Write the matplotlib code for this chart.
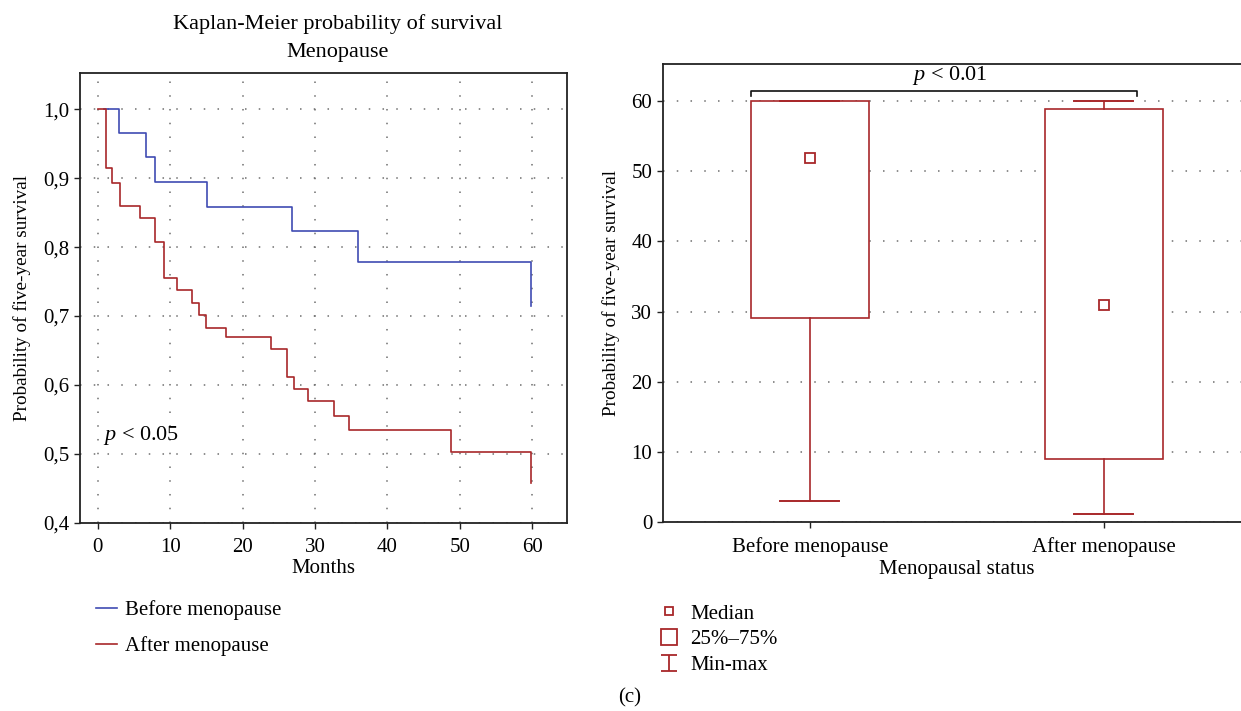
import matplotlib
matplotlib.use("Agg")
import matplotlib.pyplot as plt
from matplotlib.lines import Line2D
from matplotlib.path import Path
import numpy as np

plt.rcParams['font.family'] = ['Liberation Serif', 'DejaVu Serif']
plt.rcParams['mathtext.fontset'] = 'custom'
plt.rcParams['mathtext.it'] = 'Liberation Serif:italic'
plt.rcParams['mathtext.rm'] = 'Liberation Serif'

# Kaplan-Meier curves (months, survival probability)
before_t = [0.93, 2.9, 6.6, 7.93, 15.07, 26.8, 36.0, 59.8]
before_s = [1.0, 0.965, 0.930, 0.895, 0.858, 0.823, 0.778, 0.715]
after_t = [0.08, 1.16, 1.9, 3.04, 5.9, 7.88, 9.18, 10.9, 13.05, 13.92, 14.98,
           17.65, 23.88, 26.09, 27.06, 29.03, 32.63, 34.7, 48.72, 59.8]
after_s = [1.0, 0.915, 0.893, 0.859, 0.842, 0.807, 0.755, 0.738, 0.719, 0.701, 0.683,
           0.669, 0.652, 0.611, 0.594, 0.576, 0.555, 0.535, 0.502, 0.457]
series_names = ["Before menopause", "After menopause"]

# box plot summary per menopausal status
groups = ["Before menopause", "After menopause"]
medians = [51.9, 30.9]
q1 = [29.1, 9.05]
q3 = [60.0, 58.86]
mins = [3.03, 1.18]
maxs = [60.0, 60.0]

red = '#a8282a'
blue = '#3f4bb3'
dotgrid = dict(color='#6f6f6f', linestyle=(0, (1, 8)), linewidth=1.1)
fs = 15
fs_ylab = 13.8

W, H = 1241, 711
fig = plt.figure(figsize=(W / 100, H / 100), dpi=100)

def frac(x0, y0, x1, y1):
    # pixel box (top-left origin) -> figure fraction rect
    return [x0 / W, 1 - y1 / H, (x1 - x0) / W, (y1 - y0) / H]

# ---- left: Kaplan-Meier ----
ax1 = fig.add_axes(frac(80, 72.7, 566.7, 522.7))
ax1.step(before_t, before_s, where='post', color=blue, lw=1.2, label=series_names[0])
ax1.step(after_t, after_s, where='post', color=red, lw=1.2, label=series_names[1])
ax1.set_xlim(-2.45, 64.75)
ax1.set_ylim(0.4, 1.053)
ax1.set_xticks(range(0, 61, 10))
yt = np.arange(0.4, 1.01, 0.1)
ax1.set_yticks(yt)
ax1.set_yticklabels([("%.1f" % v).replace('.', ',') for v in yt])
ax1.grid(True, **dotgrid)
ax1.set_axisbelow(True)
ax1.tick_params(labelsize=fs, length=4, width=1, direction='out', color='#222222')
ax1.tick_params(axis='x', pad=7)
ax1.set_xlabel("Months", fontsize=fs)
ax1.set_ylabel("Probability of five-year survival", fontsize=fs_ylab)
ax1.xaxis.set_label_coords(0.5, -0.08)
ax1.yaxis.set_label_coords(-0.1, 0.5)
ax1.text(0.7, 0.527, r"$p$ < 0.05", fontsize=fs + 1, va='center', ha='left')
for s in ax1.spines.values():
    s.set_linewidth(1.3)
    s.set_color('#222222')

fig.text(338 / W, 1 - 24 / H, "Kaplan-Meier probability of survival", fontsize=fs + 1,
         ha='center', va='center')
fig.text(338 / W, 1 - 52 / H, "Menopause", fontsize=fs + 1, ha='center', va='center')

fig.legend(handles=ax1.get_lines(), loc='upper left',
           bbox_to_anchor=(96 / W, 1 - 600 / H), frameon=False, fontsize=fs,
           handlelength=1.0, handletextpad=0.4, labelspacing=0.8, borderpad=0,
           borderaxespad=0)

# ---- right: box plot ----
ax2 = fig.add_axes(frac(662.7, 64.3, 1250.75, 522.3))
stats = []
for i in range(len(groups)):
    stats.append(dict(med=medians[i], q1=q1[i], q3=q3[i], whislo=mins[i],
                      whishi=maxs[i], label=groups[i]))
pos = np.arange(len(groups))
ax2.bxp(stats, positions=pos, widths=0.4, capwidths=0.2, patch_artist=True,
        showfliers=False,
        boxprops=dict(facecolor='white', edgecolor=red, linewidth=1.2),
        whiskerprops=dict(color=red, linewidth=1.2),
        capprops=dict(color=red, linewidth=1.4),
        medianprops=dict(linewidth=0))
ax2.plot(pos, medians, 's', ms=6.5, mfc='white', mec=red, mew=1.3, ls='none', zorder=5)
ax2.set_xlim(-0.5, 1.5)
ax2.set_ylim(0, 65.2)
ax2.set_yticks(range(0, 61, 10))
ax2.set_xticks(pos)
ax2.set_xticklabels(groups)
ax2.yaxis.grid(True, **dotgrid)
ax2.set_axisbelow(True)
ax2.tick_params(labelsize=fs, length=4, width=1, direction='out', color='#222222')
ax2.tick_params(axis='x', pad=7)
ax2.set_xlabel("Menopausal status", fontsize=fs)
ax2.set_ylabel("Probability of five-year survival", fontsize=fs_ylab)
ax2.xaxis.set_label_coords(0.5, -0.083)
ax2.yaxis.set_label_coords(-0.073, 0.5)
for s in ax2.spines.values():
    s.set_linewidth(1.3)
    s.set_color('#222222')

# significance bracket
bx0, bx1 = pos[0] - 0.2, pos[1] + 0.112
ax2.plot([bx0, bx0, bx1, bx1], [60.7, 61.4, 61.4, 60.7], color='#111111', lw=1.2,
         clip_on=False)
ax2.text((bx0 + bx1) / 2 + 0.02, 61.9, r"$p$ < 0.01", fontsize=fs + 1, ha='center',
         va='bottom')

# legend for box plot
minmax = Path([(-1, 1), (1, 1), (0, 1), (0, -1), (-1, -1), (1, -1)],
              [Path.MOVETO, Path.LINETO, Path.MOVETO, Path.LINETO, Path.MOVETO, Path.LINETO])
h_med = Line2D([], [], marker='s', ms=6, mfc='white', mec=red, mew=1.3, ls='none')
h_box = Line2D([], [], marker='s', ms=11.5, mfc='white', mec=red, mew=1.3, ls='none')
h_mm = Line2D([], [], marker=minmax, ms=11, mfc='none', mec=red, mew=1.3, ls='none')
fig.legend(handles=[h_med, h_box, h_mm], labels=["Median", "25%–75%", "Min-max"],
           loc='upper left', bbox_to_anchor=(658 / W, 1 - 604 / H), frameon=False,
           fontsize=fs, handlelength=1.1, handletextpad=0.45, labelspacing=0.3,
           borderpad=0, borderaxespad=0)

fig.text(630 / W, 1 - 698 / H, "(c)", fontsize=fs, ha='center', va='center')

fig.savefig("out.png", dpi=100)
